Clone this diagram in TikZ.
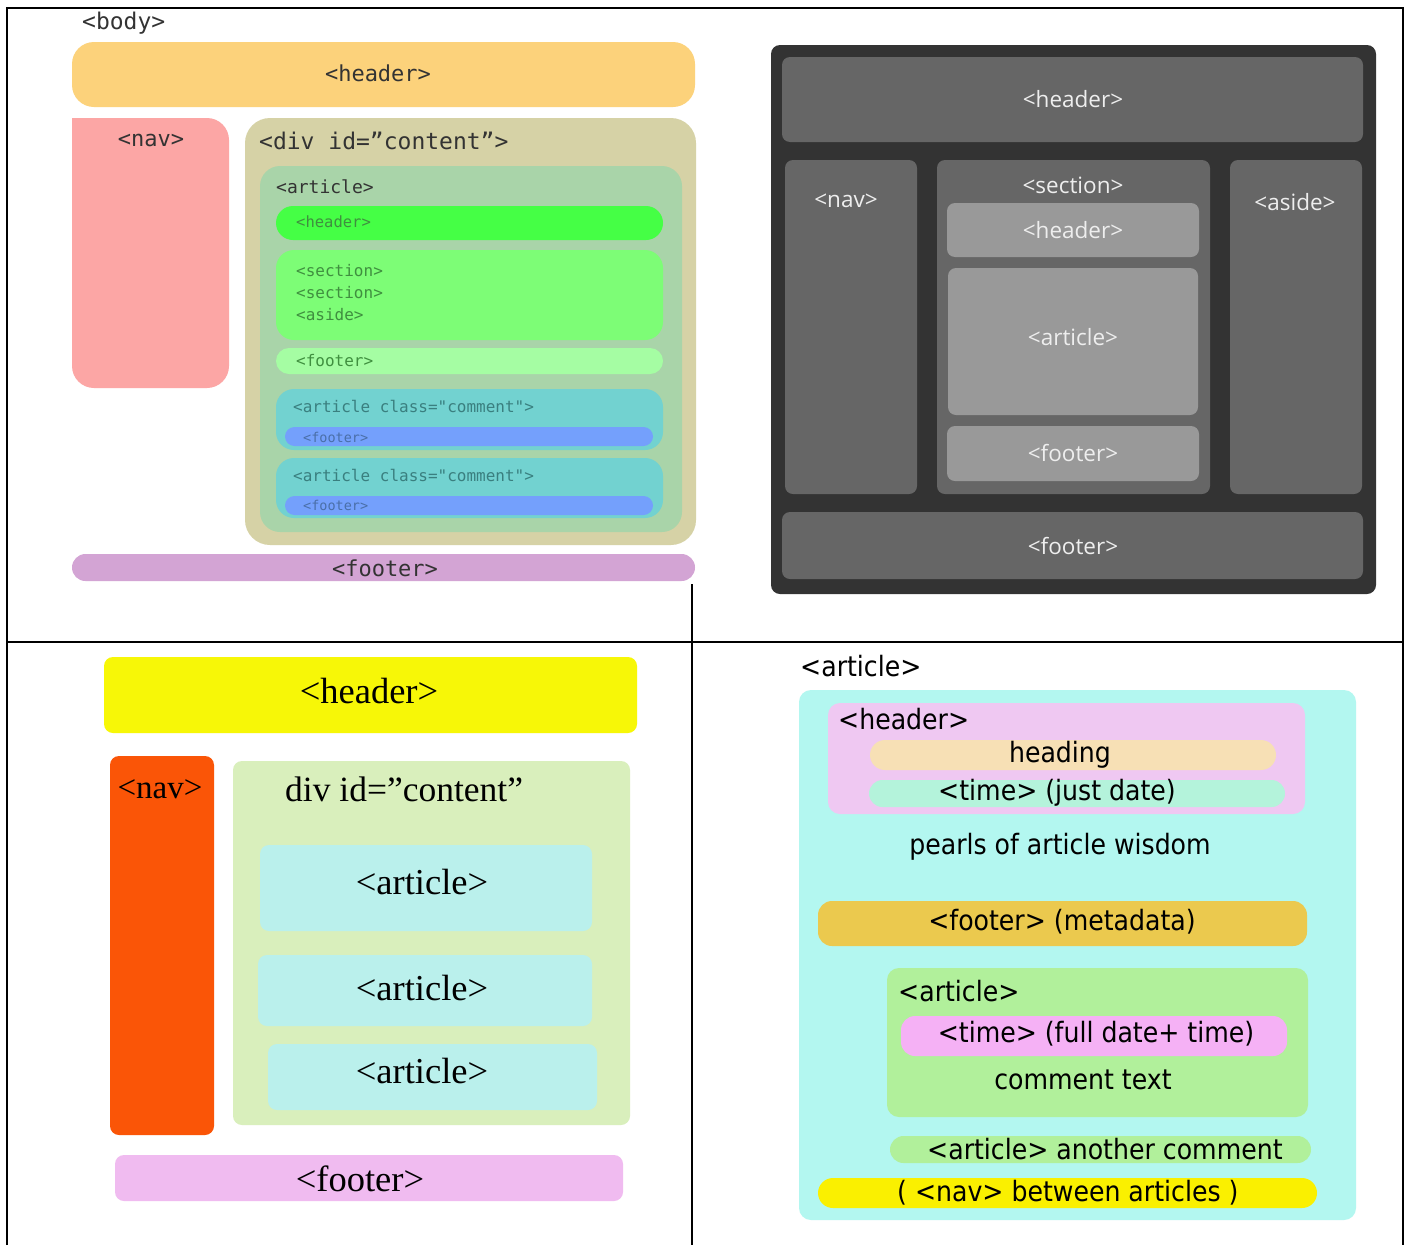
\documentclass[tikz,border=0pt]{standalone}
\usepackage{fontspec}
\setmainfont{Liberation Serif}
\newfontfamily\monof{DejaVu Sans Mono}
\newfontfamily\osans{Open Sans}
\newfontfamily\tahoma{DejaVu Sans Condensed}
\definecolor{tlheader}{HTML}{FCD27B}
\definecolor{tlnav}{HTML}{FCA6A5}
\definecolor{tldiv}{HTML}{D6D2A6}
\definecolor{tlart}{HTML}{A9D4A9}
\definecolor{tlhdr}{HTML}{45FF45}
\definecolor{tlsec}{HTML}{7DFD76}
\definecolor{tlfoot}{HTML}{A5FDA3}
\definecolor{tlcom}{HTML}{72D2D0}
\definecolor{tlblue}{HTML}{74A0FC}
\definecolor{tlbfoot}{HTML}{D3A4D4}
\definecolor{tltext}{HTML}{333333}
\definecolor{tlgreentext}{HTML}{3F8F3F}
\definecolor{tlteal}{HTML}{3A7F7F}
\definecolor{tlbluetext}{HTML}{4A6FA8}
\definecolor{trdark}{HTML}{333333}
\definecolor{trmid}{HTML}{666666}
\definecolor{trlight}{HTML}{999999}
\definecolor{trtext}{HTML}{EEEEEE}
\definecolor{blyellow}{HTML}{F7F707}
\definecolor{blnav}{HTML}{FA5507}
\definecolor{bldiv}{HTML}{D9EFBC}
\definecolor{blart}{HTML}{BAF0EC}
\definecolor{blfoot}{HTML}{F0BBF0}
\definecolor{brcyan}{HTML}{B3F7F0}
\definecolor{brhdr}{HTML}{EFC8F2}
\definecolor{brheading}{HTML}{F7E0B5}
\definecolor{brtime}{HTML}{B4F3DB}
\definecolor{brgold}{HTML}{EBC94E}
\definecolor{brgreen}{HTML}{B1F09B}
\definecolor{brpink}{HTML}{F5B1F5}
\definecolor{bryellow}{HTML}{FAF000}
\tikzset{
  tlbig/.style={font=\monof\fontsize{22}{26}\selectfont, text=tltext, inner sep=0pt},
  tlmid/.style={font=\monof\fontsize{18}{22}\selectfont, text=tltext, inner sep=0pt},
  tlsmall/.style={font=\monof\fontsize{16}{18}\selectfont, inner sep=0pt},
  trlab/.style={font=\osans\fontsize{22.5}{26}\selectfont, text=trtext, inner sep=0pt},
  bllab/.style={font=\fontsize{36.5}{40}\selectfont, text=black, inner sep=0pt},
  brlab/.style={font=\tahoma\fontsize{28}{31}\selectfont, text=black, inner sep=0pt},
  rule/.style={line width=2pt, black}
}
\begin{document}
\begin{tikzpicture}[x=1pt,y=-1pt]
\useasboundingbox (0,0) rectangle (1410,1245);
\fill[white] (0,0) rectangle (1410,1245);

% ---------- top-left panel ----------
\node[tlbig, font=\monof\fontsize{23}{26}\selectfont, anchor=west] (tlbody) at (82,23) {<body>};
\fill[tlheader, rounded corners=22] (72,42) rectangle (695,107);
\node[tlbig] (tlheadert) at (378,73) {<header>};
\fill[tlnav, rounded corners=22] (72,118) rectangle (229,388);
\fill[tlnav] (72,118) rectangle (100,150);
\node[tlbig] (tlnavt) at (151,140) {<nav>};
\fill[tldiv, rounded corners=25] (245,118) rectangle (696,545);
\node[tlbig, font=\monof\fontsize{23}{26}\selectfont, anchor=west] (tldivt) at (259,141) {<div id=”content”>};
\fill[tlart, rounded corners=20] (260,166) rectangle (682,532);
\node[tlmid, anchor=west] (tlartt) at (276,187) {<article>};
\fill[tlhdr, rounded corners=17] (276,206) rectangle (663,240);
\node[tlsmall, font=\monof\fontsize{15.5}{18}\selectfont, text=tlgreentext, anchor=west] (tlhdrt) at (296,222) {<header>};
\fill[tlsec, rounded corners=18] (276,250) rectangle (663,340);
\node[tlsmall, text=tlgreentext, anchor=west] (tlsec1) at (296,271) {<section>};
\node[tlsmall, text=tlgreentext, anchor=west] (tlsec2) at (296,293) {<section>};
\node[tlsmall, text=tlgreentext, anchor=west] (tlaside) at (296,315) {<aside>};
\fill[tlfoot, rounded corners=13] (276,348) rectangle (663,374);
\node[tlsmall, text=tlgreentext, anchor=west] (tlfoott) at (296,361) {<footer>};
\fill[tlcom, rounded corners=18] (276,389) rectangle (663,450);
\node[tlsmall, text=tlteal, anchor=west] (tlcom1) at (293,406) {<article class="comment">};
\fill[tlblue, rounded corners=9.5] (285,427) rectangle (653,446);
\node[tlsmall, font=\monof\fontsize{13.5}{15}\selectfont, text=tlbluetext, anchor=west] (tlcf1) at (303,437) {<footer>};
\fill[tlcom, rounded corners=18] (276,458) rectangle (663,518);
\node[tlsmall, text=tlteal, anchor=west] (tlcom2) at (293,475) {<article class="comment">};
\fill[tlblue, rounded corners=9.5] (285,496) rectangle (653,515);
\node[tlsmall, font=\monof\fontsize{13.5}{15}\selectfont, text=tlbluetext, anchor=west] (tlcf2) at (303,505) {<footer>};
\fill[tlbfoot, rounded corners=13.5] (72,554) rectangle (695,581);
\node[tlbig] (tlbfoott) at (385,568) {<footer>};

% ---------- top-right panel ----------
\fill[trdark, rounded corners=9] (771,45) rectangle (1376,594);
\fill[trmid, rounded corners=8] (782,57) rectangle (1363,142);
\node[trlab] (trheader) at (1073,99) {<header>};
\fill[trmid, rounded corners=8] (785,160) rectangle (917,494);
\node[trlab] (trnav) at (846,201) {<nav>};
\fill[trmid, rounded corners=8] (937,160) rectangle (1210,494);
\node[trlab] (trsection) at (1073,185) {<section>};
\fill[trlight, rounded corners=8] (947,203) rectangle (1199,257);
\node[trlab] (trsheader) at (1073,230) {<header>};
\fill[trlight, rounded corners=8] (948,268) rectangle (1198,415);
\node[trlab] (trarticle) at (1073,337) {<article>};
\fill[trlight, rounded corners=8] (947,426) rectangle (1199,481);
\node[trlab] (trsfooter) at (1073,453) {<footer>};
\fill[trmid, rounded corners=8] (1230,160) rectangle (1362,494);
\node[trlab] (traside) at (1295,202) {<aside>};
\fill[trmid, rounded corners=8] (782,512) rectangle (1363,579);
\node[trlab] (trfooter) at (1073,546) {<footer>};

% ---------- bottom-left panel ----------
\fill[blyellow, rounded corners=9] (104,657) rectangle (637,733);
\node[bllab] (blheader) at (369,691) {<header>};
\fill[blnav, rounded corners=9] (110,756) rectangle (214,1135);
\node[bllab, font=\fontsize{33}{36}\selectfont] (blnavt) at (160,789) {<nav>};
\fill[bldiv, rounded corners=9] (233,761) rectangle (630,1125);
\node[bllab, font=\fontsize{35.5}{40}\selectfont, anchor=west] (bldivt) at (285,789) {div id=”content”};
\fill[blart, rounded corners=9] (260,845) rectangle (592,931);
\node[bllab] (blart1) at (422,882) {<article>};
\fill[blart, rounded corners=9] (258,955) rectangle (592,1026);
\node[bllab] (blart2) at (422,988) {<article>};
\fill[blart, rounded corners=9] (268,1044) rectangle (597,1110);
\node[bllab] (blart3) at (422,1071) {<article>};
\fill[blfoot, rounded corners=9] (115,1155) rectangle (623,1201);
\node[bllab] (blfooter) at (360,1179) {<footer>};

% ---------- bottom-right panel ----------
\node[brlab, anchor=west] (brarttitle) at (800,666) {<article>};
\fill[brcyan, rounded corners=12] (799,690) rectangle (1356,1220);
\fill[brhdr, rounded corners=12] (828,703) rectangle (1305,814);
\node[brlab, anchor=west] (brheader) at (838,719) {<header>};
\fill[brheading, rounded corners=15] (870,740) rectangle (1276,770);
\node[brlab] (brheading) at (1060,755) {heading};
\fill[brtime, rounded corners=13.5] (869,780) rectangle (1285,807);
\node[brlab] (brtime) at (1057,793) {<time> (just date)};
\node[brlab] (brpearls) at (1060,847) {pearls of article wisdom};
\fill[brgold, rounded corners=14] (818,901) rectangle (1307,946);
\node[brlab] (brfooter) at (1062,922) {<footer> (metadata)};
\fill[brgreen, rounded corners=12] (887,968) rectangle (1308,1117);
\node[brlab, anchor=west] (brinnerart) at (898,991) {<article>};
\fill[brpink, rounded corners=14] (901,1016) rectangle (1287,1056);
\node[brlab] (brfulltime) at (1096,1034) {<time> (full date+ time)};
\node[brlab] (brcomment) at (1083,1080) {comment text};
\fill[brgreen, rounded corners=13.5] (890,1136) rectangle (1311,1163);
\node[brlab, anchor=west] (branother) at (927,1149) {<article> another comment};
\fill[bryellow, rounded corners=15] (818,1178) rectangle (1317,1208);
\node[brlab, anchor=west] (brnav) at (897,1193) {( <nav> between articles )};

% ---------- table rules ----------
\draw[rule] (7,1245) -- (7,8) -- (1403,8) -- (1403,1245);
\draw[line width=1.6pt] (7,642) -- (1403,642);
\draw[line width=2pt] (692,584) -- (692,1245);
\end{tikzpicture}
\end{document}
